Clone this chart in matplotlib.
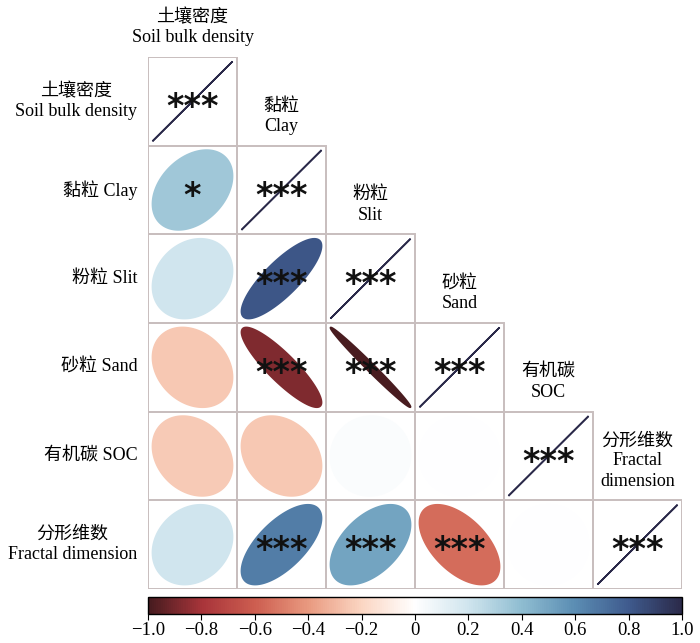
import matplotlib
matplotlib.use("Agg")
import matplotlib.pyplot as plt
import numpy as np
from matplotlib.patches import Polygon, Rectangle
from matplotlib.colors import LinearSegmentedColormap, Normalize
from matplotlib.cm import ScalarMappable

FONT = ["Liberation Serif", "Noto Sans CJK SC"]

row_labels = ["土壤密度\nSoil bulk density", "黏粒 Clay", "粉粒 Slit",
              "砂粒 Sand", "有机碳 SOC", "分形维数\nFractal dimension"]
col_labels = ["土壤密度\nSoil bulk density", "黏粒\nClay", "粉粒\nSlit",
              "砂粒\nSand", "有机碳\nSOC", "分形维数\nFractal\ndimension"]

# lower triangle, one list per row (diagonal last)
corr_rows = [
    [1.0],
    [0.35, 1.0],
    [0.2, 0.82, 1.0],
    [-0.25, -0.88, -0.99, 1.0],
    [-0.24, -0.25, 0.02, 0.0, 1.0],
    [0.2, 0.66, 0.5, -0.55, 0.0, 1.0],
]
stars_rows = [
    ["***"],
    ["*", "***"],
    ["", "***", "***"],
    ["", "***", "***", "***"],
    ["", "", "", "", "***"],
    ["", "***", "***", "***", "", "***"],
]
cbar_ticks = [-1.0, -0.8, -0.6, -0.4, -0.2, 0.0, 0.2, 0.4, 0.6, 0.8, 1.0]
cbar_labels = ["\u22121.0", "\u22120.8", "\u22120.6", "\u22120.4", "\u22120.2", "0",
               "0.2", "0.4", "0.6", "0.8", "1.0"]

cmap = LinearSegmentedColormap.from_list("rdbu_dark", [
    "#451b1f", "#a8343a", "#cd5e50", "#e99a80", "#fbd6c3", "#ffffff",
    "#d0e5ee", "#8fbdd1", "#5b8db3", "#3f5b8e", "#2b2a4a"])
norm = Normalize(-1, 1)

n = len(row_labels)
fig = plt.figure(figsize=(7.0, 6.43), dpi=100)
ax = fig.add_axes([148 / 700, 1 - 589 / 643, 534 / 700, 532 / 643])
ax.set_xlim(0, n)
ax.set_ylim(n, 0)
ax.axis("off")

k = np.linspace(0, 2 * np.pi, 200)
for i, row in enumerate(corr_rows):
    for j, r in enumerate(row):
        ax.add_patch(Rectangle((j, i), 1, 1, fill=False, edgecolor="#c8bebe",
                               lw=1.4, zorder=1))
        d = np.arccos(np.clip(r, -1, 1))
        ex = j + 0.5 + 0.45 * np.cos(k + d / 2)
        ey = i + 0.5 - 0.45 * np.cos(k - d / 2)
        col = cmap(norm(r))
        ax.add_patch(Polygon(np.column_stack([ex, ey]), closed=True,
                             facecolor=col, edgecolor=col, lw=1.2, zorder=2))
        s = stars_rows[i][j]
        if s:
            ax.text(j + 0.5, i + 0.57, s, ha="center", va="center",
                    fontsize=24, fontweight="bold", color="#111111", zorder=3)

for i, lab in enumerate(row_labels):
    ax.text(-0.12, i + 0.5, lab, ha="right", va="center", fontsize=13,
            family=FONT, multialignment="center", linespacing=1.25)

for j, lab in enumerate(col_labels):
    ax.text(j + 0.5, j - 0.12, lab, ha="center", va="bottom", fontsize=13,
            family=FONT, multialignment="center", linespacing=1.25)

cax = fig.add_axes([148 / 700, 1 - 614 / 643, 534 / 700, 17 / 643])
cb = fig.colorbar(ScalarMappable(norm=norm, cmap=cmap), cax=cax,
                  orientation="horizontal")
cb.outline.set_linewidth(1.0)
cb.set_ticks(cbar_ticks)
cb.set_ticklabels(cbar_labels)
cax.tick_params(direction="out", length=4, width=0.8, labelsize=13.5, pad=2)
for t in cax.get_xticklabels():
    t.set_family(FONT)

fig.savefig("out.png", dpi=100)
